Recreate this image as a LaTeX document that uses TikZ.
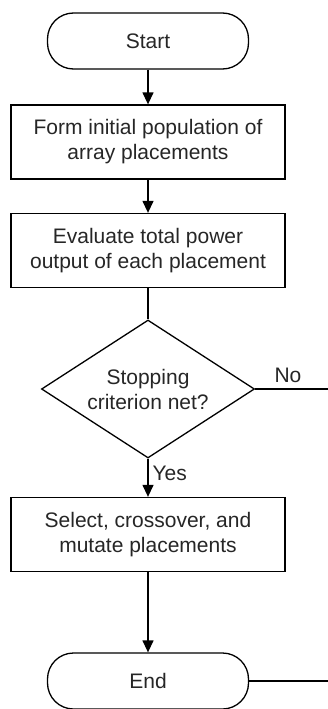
\documentclass[tikz,border=0pt]{standalone}
\usepackage{fontspec}
\setmainfont{Liberation Sans}
\usetikzlibrary{arrows.meta,shapes.geometric}

\begin{document}
\begin{tikzpicture}[x=1pt,y=-1pt,line width=1.3pt,
  every node/.style={font=\fontsize{21}{25}\selectfont,text=black!85},
  term/.style={draw,rounded corners=26pt,minimum width=201pt,minimum height=56pt},
  proc/.style={draw,minimum width=274pt,minimum height=74pt,align=center,inner sep=2pt},
  dec/.style={draw,diamond,aspect=1.55,minimum width=213pt,minimum height=138pt,inner sep=0pt,align=center},
  arr/.style={-{Triangle[length=12pt,width=11pt]}}]
\useasboundingbox (0,0) rectangle (328,709);
\node[term] (start) at (148,41) {Start};
\foreach \n/\y/\t in {form/142/{Form initial population of\\array placements},
                      eval/250.5/{Evaluate total power\\output of each placement},
                      select/534.5/{Select, crossover, and\\mutate placements}}
  \node[proc] (\n) at (148,\y) {\t};
\node[dec] (stop) at (148,389) {Stopping\\criterion net?};
\node[term] (end) at (148,681) {End};
\coordinate (noend) at (328,389);
\coordinate (endout) at (328,681);
\draw[arr] (start) -- (form);
\draw[arr] (form) -- (eval);
\draw (eval) -- (stop);
\draw[arr] (stop) -- node[pos=0.38,right,inner sep=4pt] (yes) {Yes} (select);
\draw (stop.east) -- node[pos=0.45,above,inner sep=6pt] (no) {No} (noend);
\draw[arr] (select) -- (end);
\draw (end) -- (endout);
\end{tikzpicture}
\end{document}
